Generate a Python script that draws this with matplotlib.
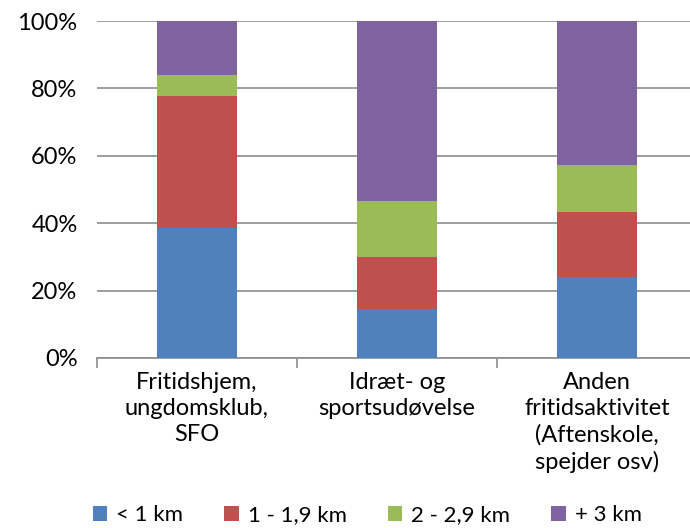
import matplotlib.pyplot as plt
from matplotlib.ticker import PercentFormatter

plt.rcParams['font.family'] = ['Lato', 'DejaVu Sans']

categories = ["Fritidshjem,\nungdomsklub,\nSFO", "Idræt- og\nsportsudøvelse",
              "Anden\nfritidsaktivitet\n(Aftenskole,\nspejder osv)"]
series = ["< 1 km", "1 - 1,9 km", "2 - 2,9 km", "+ 3 km"]
under_1 = [38.5, 14.5, 24.0]
km_1_2 = [39.1, 15.6, 19.3]
km_2_3 = [6.3, 16.5, 13.9]
over_3 = [16.1, 53.4, 42.8]
colors = ["#4f81bd", "#c0504d", "#9bbb59", "#8064a2"]

fig = plt.figure(figsize=(6.9, 5.28), dpi=100)
ax = fig.add_axes([97 / 690, (528 - 358) / 528, 600 / 690, 337 / 528])

x = range(len(categories))
bottom = [0, 0, 0]
for name, vals, c in zip(series, [under_1, km_1_2, km_2_3, over_3], colors):
    ax.bar(x, vals, width=0.4, bottom=bottom, color=c, label=name, zorder=3)
    bottom = [b + v for b, v in zip(bottom, vals)]

ax.set_ylim(0, 100)
ax.set_xlim(-0.5, 2.5)
ax.set_yticks(range(0, 101, 20))
ax.yaxis.set_major_formatter(PercentFormatter(decimals=0))
ax.grid(axis='y', color='#8c8c8c', linewidth=1.2, zorder=0)
for s in ['left', 'right', 'top']:
    ax.spines[s].set_visible(False)
ax.spines['bottom'].set_color('#8c8c8c')
ax.spines['bottom'].set_linewidth(1.2)
ax.tick_params(axis='y', length=0, labelsize=17, pad=14)
ax.set_xticks([-0.5, 0.5, 1.5, 2.5])
ax.set_xticklabels([])
ax.tick_params(axis='x', which='major', length=7, color='#8c8c8c', width=1.2)
ax.set_xticks(list(x), minor=True)
ax.set_xticklabels(categories, minor=True, fontsize=17, linespacing=1.3)
ax.tick_params(axis='x', which='minor', length=0, pad=10)

fig.legend(loc='lower left', bbox_to_anchor=(73 / 690, -0.032), ncol=4, frameon=False,
           fontsize=16, handlelength=0.65, handleheight=0.65, handletextpad=0.4,
           columnspacing=1.85)

fig.savefig("out.png", dpi=100)
